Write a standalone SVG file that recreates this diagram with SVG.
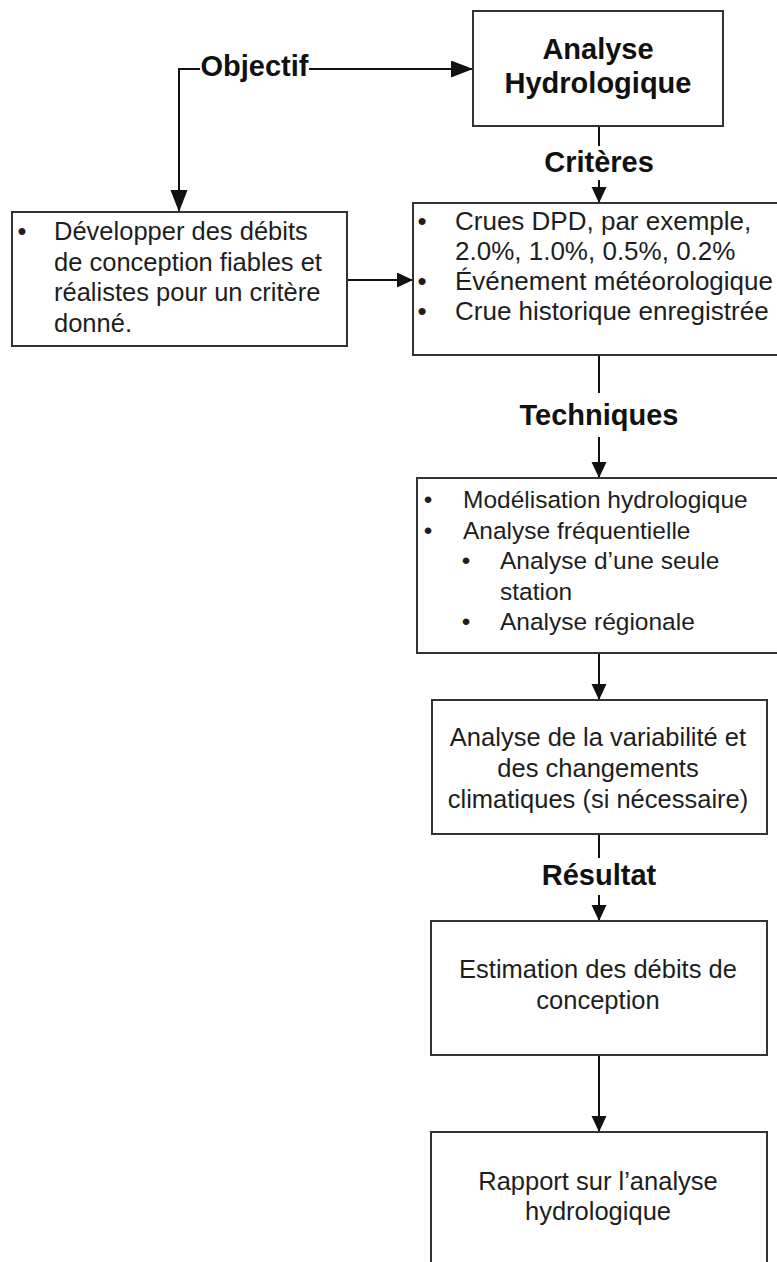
<svg xmlns="http://www.w3.org/2000/svg" width="777" height="1262" viewBox="0 0 777 1262">
  <defs>
    <style>
      .box { fill: #ffffff; stroke: #333333; stroke-width: 2; }
      .txt { font-family: "Liberation Sans", Arial, sans-serif; font-size: 25.5px; fill: #1e1e1e; }
      .mid { text-anchor: middle; }
      .bul { text-anchor: middle; }
      .lbl { font-family: "Liberation Sans", Arial, sans-serif; font-size: 29px; font-weight: bold; fill: #111111; text-anchor: middle; }
      .wire { fill: none; stroke: #111111; stroke-width: 2; }
    </style>
    <marker id="head" markerUnits="userSpaceOnUse" markerWidth="16" markerHeight="16" refX="16" refY="7.5" orient="auto">
      <path d="M0,0 L16,7.5 L0,15 z" fill="#111111"/>
    </marker>
    <marker id="headBig" markerUnits="userSpaceOnUse" markerWidth="23" markerHeight="18" refX="22" refY="8.5" orient="auto">
      <path d="M0,0 L22,8.5 L0,17 z" fill="#111111"/>
    </marker>
  </defs>

  <rect width="777" height="1262" fill="#ffffff"/>

  <!-- connectors -->
  <g id="connectors">
    <path class="wire" d="M200,69 H179 V212" marker-end="url(#headBig)"/>
    <path class="wire" d="M309,69 H473" marker-end="url(#headBig)"/>
    <path class="wire" d="M347,280 H413" marker-end="url(#head)"/>
    <path class="wire" d="M599,126 V146"/>
    <path class="wire" d="M599,180 V203" marker-end="url(#head)"/>
    <path class="wire" d="M599,355 V393"/>
    <path class="wire" d="M599,437 V478" marker-end="url(#head)"/>
    <path class="wire" d="M599,653 V700" marker-end="url(#head)"/>
    <path class="wire" d="M599,834 V858"/>
    <path class="wire" d="M599,895 V921" marker-end="url(#head)"/>
    <path class="wire" d="M599,1055 V1132" marker-end="url(#head)"/>
  </g>

  <!-- connector labels -->
  <g id="labels">
    <text class="lbl" x="254.5" y="76">Objectif</text>
    <text class="lbl" x="599" y="172">Critères</text>
    <text class="lbl" x="599" y="425">Techniques</text>
    <text class="lbl" x="599" y="885">Résultat</text>
  </g>

  <g id="analyse-hydrologique">
    <rect class="box" x="473" y="11" width="250" height="115"/>
    <text class="lbl" x="598" y="59">Analyse</text>
    <text class="lbl" x="598" y="93">Hydrologique</text>
  </g>

  <g id="objectif">
    <rect class="box" x="12" y="212" width="335" height="134"/>
    <text class="txt bul" x="22" y="240">•</text>
    <text class="txt" x="54" y="240">Développer des débits</text>
    <text class="txt" x="54" y="271">de conception fiables et</text>
    <text class="txt" x="54" y="301">réalistes pour un critère</text>
    <text class="txt" x="54" y="332">donné.</text>
  </g>

  <g id="criteres">
    <rect class="box" x="413" y="203" width="370" height="152"/>
    <g class="txt" style="font-size:26px">
      <text class="bul" x="422" y="230">•</text>
      <text x="455" y="230">Crues DPD, par exemple,</text>
      <text x="455" y="260">2.0%, 1.0%, 0.5%, 0.2%</text>
      <text class="bul" x="422" y="290">•</text>
      <text x="455" y="290">Événement météorologique</text>
      <text class="bul" x="422" y="320">•</text>
      <text x="455" y="320">Crue historique enregistrée</text>
    </g>
  </g>

  <g id="techniques">
    <rect class="box" x="417" y="478" width="366" height="175"/>
    <g class="txt" style="font-size:24.5px">
      <text class="bul" x="428" y="508">•</text>
      <text x="463" y="508">Modélisation hydrologique</text>
      <text class="bul" x="428" y="538.5">•</text>
      <text x="463" y="538.5">Analyse fréquentielle</text>
      <text class="bul" x="466" y="569">•</text>
      <text x="500" y="569">Analyse d’une seule</text>
      <text x="500" y="599.5">station</text>
      <text class="bul" x="466" y="630">•</text>
      <text x="500" y="630">Analyse régionale</text>
    </g>
  </g>

  <g id="variabilite">
    <rect class="box" x="432" y="700" width="335" height="134"/>
    <text class="txt mid" x="598" y="746">Analyse de la variabilité et</text>
    <text class="txt mid" x="598" y="777">des changements</text>
    <text class="txt mid" x="598" y="808">climatiques (si nécessaire)</text>
  </g>

  <g id="estimation">
    <rect class="box" x="431" y="921" width="336" height="134"/>
    <text class="txt mid" x="598" y="978">Estimation des débits de</text>
    <text class="txt mid" x="598" y="1009">conception</text>
  </g>

  <g id="rapport">
    <rect class="box" x="431" y="1132" width="336" height="140"/>
    <text class="txt mid" x="598" y="1190">Rapport sur l’analyse</text>
    <text class="txt mid" x="598" y="1220">hydrologique</text>
  </g>
</svg>
